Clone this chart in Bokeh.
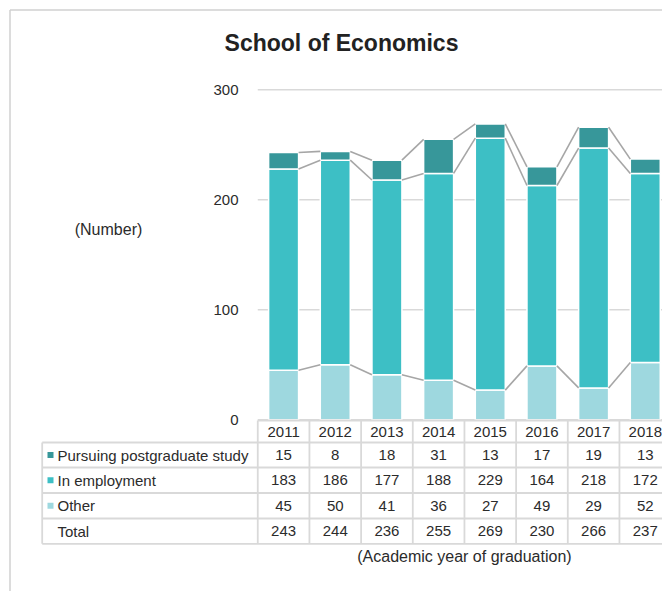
from bokeh.plotting import figure
from bokeh.models import ColumnDataSource, Range1d, Label
from bokeh.core.properties import value
from bokeh.embed import file_html
from bokeh.resources import INLINE

# ---------------- data ----------------
years = ["2011", "2012", "2013", "2014", "2015", "2016", "2017", "2018"]
postgrad = [15, 8, 18, 31, 13, 17, 19, 13]
employment = [183, 186, 177, 188, 229, 164, 218, 172]
other = [45, 50, 41, 36, 27, 49, 29, 52]
series_names = ["Pursuing postgraduate study", "In employment", "Other"]
total_name = "Total"
y_ticks = [0, 100, 200, 300]
title_text = "School of Economics"
y_title = "(Number)"
x_title = "(Academic year of graduation)"

# ---------------- styling / layout ----------------
C_POST = "#37979A"
C_EMP = "#3DBFC5"
C_OTHER = "#9ED8DF"
GRID = "#D9D9D9"
CONNECT = "#A6A6A6"
TXT = "#2B2B2B"
FONT = "Liberation Sans"

W, H = 662, 591
CW = 51.67      # px per category
X0 = 283.1      # page x of first category centre
UY = 1.1        # px per unit
Y0 = 419.3      # page y of value 0


def fx(px):
    return (px - X0) / CW


def fy(py):
    return (Y0 - py) / UY


n = len(years)
idx = list(range(n))
totals = [a + b + c for a, b, c in zip(postgrad, employment, other)]

p = figure(width=W, height=H, output_backend="svg", toolbar_location=None,
           x_range=Range1d(fx(0), fx(W)), y_range=Range1d(fy(H), fy(0)),
           x_axis_location=None, y_axis_location=None, min_border=0,
           background_fill_color="white", border_fill_color="white")
p.outline_line_color = None
p.xgrid.visible = False
p.ygrid.visible = False

# outer chart border
p.segment(x0=[fx(9.5), fx(9.5)], y0=[fy(9.5), fy(9.5)],
          x1=[fx(700), fx(9.5)], y1=[fy(9.5), fy(700)],
          line_color="#D0D0D0", line_width=1.5)

# gridlines
xr_end = fx(700)
p.segment(x0=[-0.5] * len(y_ticks), y0=y_ticks, x1=[xr_end] * len(y_ticks), y1=y_ticks,
          line_color=GRID, line_width=1.5)

# y tick labels
p.text(x=[fx(238)] * len(y_ticks), y=y_ticks, text=[str(t) for t in y_ticks],
       text_align="right", text_baseline="middle", text_font=value(FONT),
       text_font_size="15px", text_color=TXT)

# stacked bars
BW = 0.58
src = ColumnDataSource(dict(x=idx, other=other, employment=employment, postgrad=postgrad))
p.vbar_stack(["other", "employment", "postgrad"], x="x", width=BW,
             color=[C_OTHER, C_EMP, C_POST], line_color="white", line_width=1.5,
             source=src)

# series connector lines
cum1 = other
cum2 = [a + b for a, b in zip(other, employment)]
cum3 = totals
for cum in (cum1, cum2, cum3):
    p.segment(x0=[i + BW / 2 for i in idx[:-1]], y0=cum[:-1],
              x1=[i - BW / 2 for i in idx[1:]], y1=cum[1:],
              line_color=CONNECT, line_width=1.6)

# ---------------- data table ----------------
row_lines_py = [442.0, 467.0, 492.5, 518.0, 543.3]
row_centers_py = [454.5, 479.8, 505.2, 530.6]
year_top_py = 420.0
year_center_py = 431.5
left_px = 41.7
right_end = fx(700)

hx0, hy, hx1 = [], [], []
hx0.append(-0.5); hy.append(fy(year_top_py)); hx1.append(right_end)
for ry in row_lines_py:
    hx0.append(fx(left_px)); hy.append(fy(ry)); hx1.append(right_end)
p.segment(x0=hx0, y0=hy, x1=hx1, y1=hy, line_color=GRID, line_width=1.8)

vx = [fx(left_px)] + [i - 0.5 for i in range(n + 1)]
vy0 = [fy(row_lines_py[0])] + [fy(year_top_py)] * (n + 1)
vy1 = [fy(row_lines_py[-1])] * (n + 2)
p.segment(x0=vx, y0=vy0, x1=vx, y1=vy1, line_color=GRID, line_width=1.8)

# year header
p.text(x=idx, y=[fy(year_center_py)] * n, text=years, text_align="center",
       text_baseline="middle", text_font=value(FONT), text_font_size="15px",
       text_color=TXT)

# value rows
for vals, cy in zip([postgrad, employment, other, totals], row_centers_py):
    p.text(x=idx, y=[fy(cy)] * n, text=[str(v) for v in vals], text_align="center",
           text_baseline="middle", text_font=value(FONT), text_font_size="15px",
           text_color=TXT)

# row headers with legend keys
labels = series_names + [total_name]
p.text(x=[fx(57)] * 4, y=[fy(c) for c in row_centers_py], text=labels,
       text_align="left", text_baseline="middle", text_font=value(FONT),
       text_font_size="15px", text_color=TXT)
p.rect(x=[fx(50)] * 3, y=[fy(c) for c in row_centers_py[:3]],
       width=6 / CW, height=6 / UY, color=[C_POST, C_EMP, C_OTHER], line_color=None)

# titles
p.add_layout(Label(x=fx(341), y=fy(42), text=title_text, text_align="center",
                   text_baseline="middle", text_font=FONT, text_font_size="23px",
                   text_font_style="bold", text_color="#222222"))
p.add_layout(Label(x=fx(108), y=fy(229), text=y_title, text_align="center",
                   text_baseline="middle", text_font=FONT, text_font_size="16px",
                   text_color=TXT))
p.add_layout(Label(x=3.5, y=fy(556), text=x_title, text_align="center",
                   text_baseline="middle", text_font=FONT, text_font_size="16px",
                   text_color=TXT))

open("out.html", "w").write(file_html(p, INLINE))
